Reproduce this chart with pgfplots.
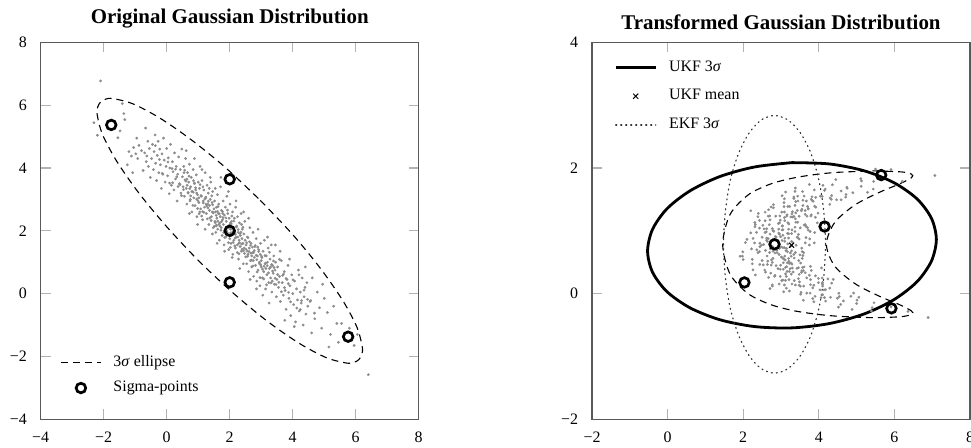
\documentclass[border=0pt]{standalone}
\usepackage{fontspec}
\setmainfont{Liberation Serif}
\usepackage{pgfplots}
\usepackage{pgfplotstable}
\pgfplotsset{compat=1.18}

% Samples of the original Gaussian (x, y)
\pgfplotstableread{
x y
-2.10 6.77
-2.31 5.44
-2.20 5.04
-1.41 6.05
-1.36 5.73
-1.33 5.54
-1.48 5.18
-1.55 4.96
-0.67 5.27
6.40 -2.58
5.95 -1.65
5.80 -1.10
6.05 -1.30
5.55 -0.95
5.45 -1.55
-1.20 4.52
-1.12 4.38
-1.05 4.65
-0.98 4.45
-0.92 4.30
-0.88 4.72
-0.80 4.55
-0.75 3.92
-0.70 4.48
-0.65 4.20
-0.60 4.85
-0.58 4.05
-0.55 4.62
-0.52 3.70
-1.25 4.10
-0.95 4.95
-1.08 3.85
-0.48 4.30
-0.45 4.75
-0.42 3.95
-0.40 4.52
-0.37 5.05
-0.35 4.15
-0.32 3.60
-0.30 4.40
-0.27 4.85
-0.25 3.85
-0.22 4.60
-0.20 4.10
-0.17 3.35
-0.15 4.45
-0.12 3.80
-0.10 4.95
-0.08 4.25
-0.05 3.55
-0.02 4.05
0.00 4.62
0.03 3.75
0.05 4.32
0.08 3.18
0.10 4.00
0.12 4.75
0.15 3.45
0.18 4.20
0.20 3.88
0.23 3.30
0.25 4.48
0.28 3.65
0.30 4.05
0.33 2.95
0.35 3.80
0.38 4.35
0.40 3.50
0.43 3.95
0.45 3.20
0.48 4.60
0.50 3.72
0.52 3.40
0.54 4.05
0.56 3.10
0.58 3.62
0.60 4.30
0.62 3.35
0.64 2.85
0.66 3.85
0.68 3.20
0.70 3.55
0.72 4.12
0.74 2.95
0.76 3.40
0.78 3.70
0.80 2.60
0.82 3.25
0.84 3.95
0.86 3.05
0.88 3.50
0.90 2.80
0.92 3.30
0.94 3.78
0.96 2.45
0.98 3.15
1.00 3.55
1.02 2.90
1.04 3.35
1.06 4.05
1.08 2.70
1.10 3.10
1.12 3.60
1.14 2.35
1.16 2.95
1.18 3.30
1.20 2.75
1.22 3.85
1.24 3.05
1.26 2.55
1.28 3.45
1.30 2.85
1.32 3.20
1.34 2.20
1.36 2.65
1.38 3.00
1.40 3.55
1.42 2.45
1.44 2.90
1.46 3.25
1.48 2.10
1.50 2.70
0.55 3.85
0.65 3.45
0.75 3.00
0.85 3.60
0.95 3.20
1.05 2.60
1.15 3.40
1.25 2.85
1.35 3.35
1.45 2.60
0.62 4.55
0.88 4.30
1.12 3.95
1.38 3.70
0.72 2.55
0.98 2.20
1.22 2.05
1.45 1.90
0.80 3.25
1.02 3.05
1.52 2.95
1.53 2.30
1.55 2.60
1.56 1.95
1.58 2.75
1.59 2.40
1.61 3.15
1.62 2.05
1.64 2.55
1.65 2.85
1.67 1.70
1.68 2.25
1.70 2.45
1.71 3.40
1.73 2.10
1.74 2.65
1.76 1.85
1.77 2.35
1.79 2.95
1.80 2.20
1.82 1.55
1.83 2.50
1.85 2.05
1.86 2.75
1.88 1.80
1.89 2.30
1.91 3.10
1.92 1.95
1.94 2.55
1.95 2.15
1.97 1.40
1.98 2.40
2.00 1.75
2.01 2.85
2.03 2.05
2.04 1.60
2.06 2.30
2.07 1.90
2.09 2.60
2.10 1.25
2.12 2.10
2.13 1.70
2.15 2.40
2.16 1.95
2.18 1.45
2.19 2.75
2.21 1.80
2.22 2.15
2.24 1.55
2.25 2.45
2.27 1.95
2.28 1.10
2.30 1.70
2.31 2.25
2.33 1.50
2.34 1.85
2.36 2.55
2.37 1.35
2.39 1.75
2.40 2.05
2.42 1.60
2.43 0.95
2.45 1.90
2.46 1.45
2.48 2.30
2.49 1.70
1.54 3.35
1.66 2.20
1.78 2.55
1.90 2.00
2.02 2.25
2.14 2.00
2.26 1.80
2.38 2.20
1.60 1.60
1.84 1.35
2.08 1.15
2.32 0.80
1.72 3.70
1.96 3.25
2.20 2.95
2.44 2.60
1.57 2.15
1.81 1.95
2.05 1.85
2.29 1.60
2.52 1.55
2.54 0.95
2.56 1.80
2.58 1.25
2.60 0.70
2.62 1.45
2.64 2.10
2.66 1.05
2.68 1.60
2.70 0.85
2.72 1.30
2.74 1.95
2.76 0.55
2.78 1.15
2.80 1.50
2.82 0.90
2.84 1.75
2.86 0.40
2.88 1.20
2.90 0.75
2.92 1.40
2.94 1.00
2.96 0.25
2.98 1.60
3.00 0.85
3.02 1.15
3.04 0.50
3.06 1.35
3.08 0.70
3.10 1.70
3.12 0.95
3.14 0.15
3.16 1.20
3.18 0.60
3.20 1.00
3.22 1.45
3.24 0.35
3.26 0.80
3.28 1.10
3.30 0.50
3.32 1.55
3.34 0.05
3.36 0.90
3.38 0.65
3.40 1.20
3.42 0.30
3.44 0.75
3.46 1.00
3.48 -0.10
3.50 0.45
2.55 1.35
2.75 1.05
2.95 0.95
3.15 0.80
3.35 0.40
2.65 0.45
2.85 0.15
3.05 -0.05
3.25 -0.30
2.60 2.40
2.90 2.05
3.20 1.80
3.45 1.55
2.70 1.20
3.00 1.05
3.30 0.85
3.52 0.85
3.55 0.20
3.58 0.55
3.61 -0.25
3.64 1.05
3.67 0.35
3.70 -0.05
3.73 0.70
3.76 0.10
3.79 -0.50
3.82 0.45
3.85 0.90
3.88 -0.15
3.91 0.25
3.94 -0.70
3.97 0.60
4.00 0.00
4.03 -0.35
4.06 0.40
4.09 -0.90
4.12 0.15
4.15 -0.20
4.18 0.75
4.21 -0.55
4.24 0.05
4.27 -0.30
4.30 0.50
4.33 -1.00
4.36 -0.10
4.39 0.20
4.42 -0.65
4.45 0.35
4.48 -0.40
3.60 1.35
3.90 1.10
4.20 0.60
4.40 0.85
3.75 -0.85
4.05 -1.05
4.55 -0.25
4.62 0.50
4.70 -0.80
4.78 0.05
4.85 -0.45
4.92 -1.10
5.00 -0.15
5.10 -0.60
5.20 -1.30
5.30 -0.40
5.40 -0.95
4.95 0.30
4.60 -1.25
5.15 -1.70
1.37 2.41
2.81 1.53
0.47 3.12
1.93 2.66
3.17 0.28
2.24 1.31
1.06 3.47
2.69 1.07
0.83 2.81
3.58 1.09
1.51 2.14
2.36 1.96
0.19 3.53
2.97 1.25
1.72 2.02
3.86 0.32
0.71 3.74
2.13 2.31
1.29 2.38
3.33 0.93
-0.36 4.71
2.58 1.78
1.84 1.79
4.13 -0.46
0.98 2.71
2.87 0.69
1.63 2.77
3.47 0.29
0.36 3.41
2.42 2.11
1.18 2.59
3.04 0.78
2.07 2.47
0.57 3.93
1.96 1.62
3.71 0.62
2.74 0.88
1.43 3.11
0.09 3.52
2.29 1.27
4.36 0.11
1.11 2.47
3.26 1.32
2.51 1.17
0.64 3.64
1.77 2.61
3.93 -0.26
2.16 1.52
0.92 3.37
2.92 1.34
1.58 2.18
3.41 0.83
-0.14 3.83
2.63 1.65
1.24 3.07
4.57 -0.22
2.02 1.47
0.76 3.11
3.12 1.21
1.67 2.54
2.39 1.42
3.64 0.06
0.28 3.96
1.88 2.41
2.78 1.37
1.03 2.54
3.52 0.61
2.21 2.12
0.53 3.31
1.46 2.83
3.08 0.47
2.47 1.28
4.24 -0.51
1.32 2.94
2.89 1.48
0.88 3.52
1.99 2.18
3.79 0.48
2.57 1.19
1.14 2.61
-0.63 4.38
2.33 1.91
3.23 0.66
1.54 2.26
0.42 3.47
2.11 1.63
2.96 0.51
1.79 2.42
3.39 1.04
0.61 3.58
2.66 1.54
1.27 2.79
4.01 0.44
2.05 2.22
3.14 0.97
0.95 3.01
1.61 2.62
2.44 1.37
3.68 0.58
1.09 3.12
2.72 1.48
0.17 3.98
1.86 1.99
3.31 0.34
2.27 2.04
4.69 -0.62
1.41 2.33
2.54 1.62
0.73 3.34
3.01 1.19
1.69 2.15
2.18 1.89
3.87 0.04
1.21 3.01
2.84 1.22
0.32 3.72
1.97 2.09
3.44 0.49
2.61 1.34
1.36 2.81
0.04 4.19
2.31 1.62
3.19 0.89
1.57 2.49
4.47 -0.18
2.09 1.96
0.84 3.23
2.76 1.31
1.74 2.29
3.56 0.36
1.16 2.89
2.38 1.58
-0.23 4.27
2.99 0.91
1.89 2.06
3.74 0.19
0.68 3.22
2.52 1.41
1.48 2.57
3.36 0.72
2.17 1.77
0.99 2.96
2.86 1.08
1.62 2.31
4.28 -0.22
2.03 1.93
3.09 0.87
1.31 2.73
2.67 1.29
}\originalsamples

% The same kind of samples after the transform: range r and bearing b
\pgfplotstableread{
r b
2.95 0.792
2.48 0.771
3.31 0.812
2.78 0.746
3.10 0.833
2.22 0.713
2.87 0.856
3.55 0.724
2.62 0.884
2.43 0.669
3.20 0.885
2.70 0.655
3.44 0.893
1.98 0.596
3.05 0.930
2.95 0.624
2.58 0.973
3.75 0.774
2.30 0.806
3.25 0.753
2.73 0.827
3.05 0.732
2.10 0.864
3.15 0.719
2.66 0.875
2.89 0.690
3.48 0.869
2.39 0.652
2.99 0.906
2.84 0.647
2.20 0.967
3.25 0.647
2.96 0.948
2.54 0.782
3.88 0.807
2.72 0.714
3.10 0.882
1.92 0.595
3.28 0.830
2.59 0.689
2.85 0.908
3.38 0.655
2.44 0.803
3.00 0.743
2.26 0.878
3.13 0.683
3.66 0.892
2.75 0.760
2.62 0.850
3.17 0.667
2.61 0.984
3.34 0.624
2.81 0.991
3.50 0.617
2.43 1.042
3.05 0.564
2.94 1.026
2.24 0.475
3.29 1.015
2.77 0.497
3.77 0.990
2.64 0.464
3.04 1.078
3.47 0.526
2.43 1.165
3.22 0.481
2.96 1.126
2.00 0.543
3.28 0.956
3.01 0.584
2.55 1.029
3.58 0.607
2.77 1.035
3.20 0.560
2.32 1.098
3.11 0.534
3.89 0.972
2.53 0.458
3.03 1.076
2.74 0.454
3.51 1.046
2.26 0.378
3.20 0.953
2.79 0.562
3.05 1.018
2.44 0.465
3.72 1.012
2.99 0.452
2.62 1.032
3.35 0.567
2.31 1.132
3.17 0.491
3.46 0.942
2.75 0.538
2.52 1.087
3.21 0.516
2.93 1.115
3.60 0.652
3.21 1.108
2.57 0.376
3.66 1.072
2.92 0.397
3.10 1.161
2.32 0.297
3.44 1.137
3.24 0.397
2.86 1.234
3.61 0.425
2.58 1.297
3.22 0.353
3.96 1.127
2.83 0.277
3.16 1.255
3.59 0.366
3.02 1.298
3.29 0.469
2.39 1.224
3.15 0.429
3.61 1.093
2.98 0.388
2.66 1.233
3.30 0.407
2.20 1.319
3.42 0.402
2.97 1.237
3.78 0.434
3.15 1.234
2.67 0.257
3.34 1.227
3.55 0.363
2.71 1.174
3.12 0.417
2.40 1.277
3.57 0.416
3.30 1.220
2.98 0.273
3.64 1.099
2.73 0.326
3.38 1.190
3.12 0.315
3.09 1.299
3.54 0.338
2.74 1.379
3.48 0.307
3.30 1.304
3.02 0.207
3.91 1.216
2.77 0.139
3.43 1.324
3.75 0.293
3.18 1.387
2.71 0.080
3.55 1.343
3.91 0.283
3.08 1.448
3.49 0.187
3.72 1.347
3.14 0.275
2.80 1.366
4.07 0.409
3.39 1.285
3.05 0.216
3.64 1.261
3.21 0.223
3.80 1.254
2.77 0.121
3.54 1.320
3.35 0.206
3.64 1.323
3.09 0.138
3.98 1.282
3.29 0.153
3.29 1.271
3.64 0.333
2.80 1.416
3.46 0.239
3.72 1.353
3.14 0.086
3.58 1.402
3.99 0.242
3.39 1.464
3.07 0.029
3.92 1.375
3.60 0.120
3.34 1.515
4.24 0.234
3.58 1.487
3.87 0.134
3.12 1.617
4.09 0.160
3.85 1.471
3.53 0.022
3.80 1.499
3.78 0.224
3.09 1.509
4.09 0.249
3.45 1.474
3.78 0.142
3.34 1.538
4.38 0.227
3.83 1.480
3.48 0.134
3.03 1.558
4.10 0.179
3.61 1.552
4.10 0.120
4.29 1.422
3.77 0.008
3.57 1.625
4.14 0.059
4.04 1.550
3.59 -0.105
4.30 1.522
4.10 -0.018
3.88 1.650
4.34 0.167
3.82 1.542
4.03 0.059
3.38 1.680
4.29 0.087
4.09 1.547
3.90 -0.042
4.47 1.493
3.52 -0.009
4.34 1.560
3.87 -0.130
4.15 1.643
4.53 0.006
4.71 1.536
4.18 -0.119
4.11 1.724
4.49 -0.074
4.59 1.634
4.92 0.009
3.75 1.737
4.31 -0.058
4.72 1.578
4.06 -0.064
4.36 1.733
4.85 -0.042
4.75 1.676
4.58 -0.172
4.45 1.815
5.01 -0.103
5.29 1.612
4.65 -0.116
4.90 1.606
4.52 -0.215
5.12 1.708
4.88 -0.252
5.13 1.795
5.46 -0.145
5.44 1.665
5.00 -0.158
5.45 1.786
5.39 -0.277
5.51 1.883
5.91 -0.211
6.21 1.788
6.36 -0.283
7.07 1.88
6.89 -0.38
5.91 1.973
5.50 1.983
2.64 0.831
3.10 0.596
2.98 1.169
3.46 0.412
3.43 0.900
2.36 0.698
3.20 1.026
2.87 0.446
3.69 1.233
3.12 0.211
3.18 0.792
2.31 1.063
3.56 0.668
3.26 1.221
3.52 0.487
2.50 0.897
2.65 0.517
3.70 1.389
3.38 0.138
3.37 1.057
2.96 0.722
2.94 0.963
3.27 0.311
2.70 1.237
3.56 0.561
2.06 0.813
3.76 0.872
2.79 0.676
3.23 1.387
3.68 0.250
2.79 1.003
3.27 0.595
3.70 1.051
2.59 0.341
3.03 0.847
2.63 0.599
3.44 1.552
3.99 0.175
2.69 1.097
3.40 0.771
3.48 1.231
2.84 0.290
2.35 0.975
3.06 0.491
3.09 1.211
2.44 0.746
3.37 0.989
3.80 0.369
3.37 1.405
3.08 0.547
2.79 0.866
3.28 0.680
3.18 1.128
3.06 0.388
3.17 0.958
2.24 0.545
3.92 1.532
3.68 0.008
2.58 1.160
3.09 0.732
3.79 1.236
2.95 0.153
2.87 0.901
3.26 0.487
2.67 1.335
3.32 0.345
3.64 0.808
1.99 0.665
3.89 1.392
3.51 0.118
3.03 1.013
2.50 0.527
3.39 1.136
3.16 0.353
2.71 0.948
2.90 0.651
3.08 1.386
4.18 0.064
4.17 1.665
4.54 -0.048
4.33 1.501
3.84 -0.079
4.74 1.693
5.06 -0.058
3.37 1.627
3.84 0.092
5.11 1.829
5.41 -0.223
3.67 1.474
3.22 0.042
4.59 1.493
4.15 -0.063
}\transformedsamples

\pgfplotsset{
  panel/.style={
    scale only axis, width=189bp, height=188.5bp,
    axis line style={black!65, line width=0.7bp},
    tick align=inside, major tick length=5bp,
    tick style={black!30, line width=0.6bp},
    tick label style={font=\fontsize{8}{9.6}\selectfont},
    xticklabel style={yshift=-3bp},
    yticklabel style={xshift=-3.4bp},
    title style={font=\bfseries\fontsize{10.5}{12.6}\selectfont, at={(0.5,1)}, anchor=base},
    legend style={draw=none, fill=none, font=\fontsize{8}{9.6}\selectfont,
      anchor=west, inner sep=0pt,
      nodes={inner sep=0pt},
      /tikz/every odd column/.append style={column sep=6bp}},
    legend cell align=left,
  },
  legend image code/.code={%
    \draw[mark repeat=2, mark phase=2, #1]
      plot coordinates {(0bp,0bp) (10bp,0bp) (20bp,0bp)};},
  cloud/.style={only marks, mark=*, mark size=0.62bp, color=black!45,
    mark options={line width=0.15bp, draw=black!45, fill=black!45}},
  sigmapts/.style={only marks, mark=o, mark size=2.4bp,
    mark options={line width=1.35bp, black, fill=none}},
  dashedline/.style={black, line width=0.55bp, dash pattern=on 3.5bp off 2.5bp},
}

\begin{document}
\begin{tikzpicture}
% ---------------- original distribution ----------------
\begin{axis}[panel, at={(20.35bp,14.35bp)}, anchor=south west,
  xmin=-4, xmax=8, ymin=-4, ymax=8,
  xtick={-4,-2,0,2,4,6,8}, xticklabels={−4,−2,0,2,4,6,8},
  ytick={-4,-2,0,2,4,6,8}, yticklabels={−4,−2,0,2,4,6,8},
  title={Original Gaussian Distribution}, title style={yshift=3.2bp},
  legend style={at={(0.051,0.1175)}, row sep=6bp}]
\addplot[cloud, forget plot] table[x=x, y=y] {\originalsamples};
\addplot[dashedline, smooth] coordinates {
  (2.97,2.97) (4.00,1.88) (4.89,0.79) (5.59,-0.22) (6.04,-1.07) (6.21,-1.71)
  (6.19,-1.94) (6.10,-2.10) (5.94,-2.19) (5.71,-2.21) (5.07,-2.04) (4.22,-1.59)
  (3.21,-0.89) (2.13,0.00) (1.03,1.03) (0.00,2.13) (-0.89,3.21) (-1.59,4.22)
  (-2.04,5.07) (-2.21,5.71) (-2.19,5.94) (-2.10,6.10) (-1.94,6.19) (-1.71,6.21)
  (-1.07,6.04) (-0.22,5.59) (0.79,4.89) (1.88,4.00) (2.97,2.97)};
\addlegendentry{3\textit{σ} ellipse}
\addplot[sigmapts] coordinates {
  (2,2) (2,3.64) (2,0.36) (-1.76,5.37) (5.76,-1.37)};
\addlegendentry{Sigma-points}
\end{axis}

% ---------------- transformed distribution ----------------
\begin{axis}[panel, at={(296bp,14.35bp)}, anchor=south west,
  xmin=-2, xmax=8, ymin=-2, ymax=4,
  xtick={-2,0,2,4,6,8}, xticklabels={−2,0,2,4,6,8},
  ytick={-2,0,2,4}, yticklabels={−2,0,2,4},
  title={Transformed Gaussian Distribution}, title style={yshift=0.6bp},
  legend style={at={(0.058,0.857)}, row sep=7.6bp}]
\addplot[cloud, forget plot] table[x=r, y=b] {\transformedsamples};
% image of the 3-sigma ellipse
\addplot[dashedline, smooth, forget plot] coordinates {
  (5.465,1.954) (6.123,1.940) (6.331,1.924) (6.451,1.902) (6.487,1.875)
  (6.441,1.840) (6.134,1.746) (5.594,1.610) (4.954,1.411) (4.420,1.132)
  (4.200,0.785) (4.420,0.439) (4.954,0.160) (5.594,-0.039) (6.134,-0.175)
  (6.441,-0.270) (6.487,-0.304) (6.451,-0.331) (6.331,-0.353) (6.123,-0.369)
  (5.465,-0.383) (4.510,-0.360) (3.937,-0.327) (3.331,-0.271) (2.714,-0.172)
  (2.130,0.000) (1.653,0.310) (1.457,0.785) (1.653,1.261) (2.130,1.571)
  (2.714,1.743) (3.331,1.841) (3.937,1.898) (4.510,1.931) (5.465,1.954)};
% UKF covariance
\addplot[black, line width=1.4bp, smooth] coordinates {
  (3.29,2.085) (2.30,2.016) (1.38,1.863) (0.59,1.635) (-0.02,1.349)
  (-0.40,1.022) (-0.53,0.678) (-0.40,0.342) (-0.02,0.033) (0.59,-0.225)
  (1.38,-0.415) (2.30,-0.524) (3.29,-0.545) (4.28,-0.476) (5.20,-0.323)
  (5.99,-0.095) (6.60,0.191) (6.98,0.519) (7.11,0.862) (6.98,1.199)
  (6.60,1.507) (5.99,1.765) (5.20,1.955) (4.28,2.064) (3.29,2.085)};
\addlegendentry{UKF 3\textit{σ}}
\addplot[only marks, mark=x, mark size=1.8bp, mark options={black, line width=0.5bp}]
  coordinates {(3.28,0.77)};
\addlegendentry{UKF mean}
% EKF covariance
\addplot[black!80, line width=0.6bp, dash pattern=on 0.5bp off 2bp, line cap=round, smooth]
  coordinates {
  (4.18,0.785) (4.13,1.316) (4.00,1.810) (3.79,2.235) (3.51,2.560)
  (3.18,2.765) (2.83,2.835) (2.48,2.765) (2.16,2.560) (1.88,2.235)
  (1.66,1.810) (1.53,1.316) (1.48,0.785) (1.53,0.254) (1.66,-0.240)
  (1.88,-0.665) (2.16,-0.990) (2.48,-1.195) (2.83,-1.265) (3.18,-1.195)
  (3.51,-0.990) (3.79,-0.665) (4.00,-0.240) (4.13,0.254) (4.18,0.785)};
\addlegendentry{EKF 3\textit{σ}}
\addplot[sigmapts, forget plot] coordinates {
  (2.828,0.785) (4.153,1.068) (2.032,0.178) (5.651,1.887) (5.921,-0.234)};
\end{axis}
\pgfresetboundingbox
\useasboundingbox (0bp,0bp) rectangle (485.5bp,224bp);
\end{tikzpicture}
\end{document}
